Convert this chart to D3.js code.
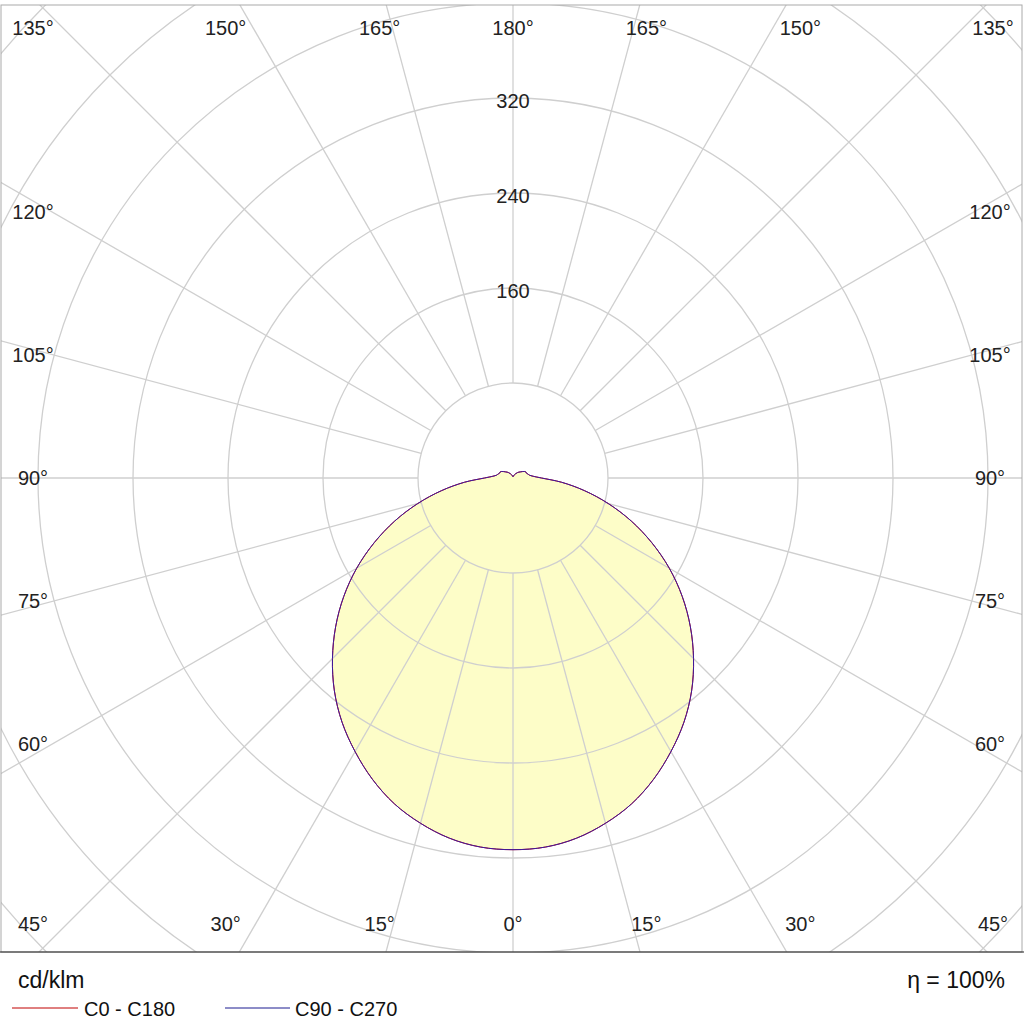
<!DOCTYPE html><html><head><meta charset="utf-8"><script src="https://cdn.jsdelivr.net/npm/d3@7"></script>
<style>body{margin:0;background:#fff}text{font-family:Arial,"Liberation Sans",sans-serif}</style></head><body>
<svg id="c" width="1024" height="1032"></svg>
<script>
const gammaDeg=[0,5,10,15,20,25,30,35,40,45,50,55,60,65,70,75,80,85,90,95,100,105,110,115,120,130,140,150,165,180];
const c0c180=[313,312,308,301,292,280,266,251,234,215,195,174,152,129,106,83,61,41,24,17,14,13,12,12,11,8,6,4,2,1];
const c90c270=c0c180.slice();
const radialTicks=[80,160,240,320,400,480,560,640];
const radialLabels=[160,240,320];
const angleTicks=[0,15,30,45,60,75,90,105,120,135,150,165,180];
const svg=d3.select("#c");
const cx=513,cy=478;
const fx0=1,fy0=5,fx1=1022,fy1=952;
const r=d3.scaleLinear().domain([0,80]).range([0,95]);
svg.append("defs").append("clipPath").attr("id","clip").append("rect").attr("x",fx0).attr("y",fy0).attr("width",fx1-fx0).attr("height",fy1-fy0);
const g=svg.append("g").attr("clip-path","url(#clip)");
function pts(vals){const a=[];for(let i=gammaDeg.length-1;i>=0;i--)a.push([-gammaDeg[i],vals[i]]);for(let i=1;i<gammaDeg.length;i++)a.push([gammaDeg[i],vals[i]]);return a;}
const line=d3.line().x(d=>cx+r(d[1])*Math.sin(d[0]*Math.PI/180)).y(d=>cy+r(d[1])*Math.cos(d[0]*Math.PI/180)).curve(d3.curveCatmullRomClosed);
g.append("path").attr("d",line(pts(c0c180))).attr("fill","#fdfdc2").attr("opacity",0.9);
radialTicks.forEach(t=>g.append("circle").attr("cx",cx).attr("cy",cy).attr("r",r(t)).attr("fill","none").attr("stroke","#cfcfcf").attr("stroke-width",1.3));
for(let a=0;a<360;a+=15){const s=Math.sin(a*Math.PI/180),c=Math.cos(a*Math.PI/180);
g.append("line").attr("x1",cx+r(80)*s).attr("y1",cy+r(80)*c).attr("x2",cx+1500*s).attr("y2",cy+1500*c).attr("stroke","#cfcfcf").attr("stroke-width",1.3);}
g.append("path").attr("d",line(pts(c0c180))).attr("fill","none").attr("stroke","#d00000").attr("stroke-width",1);
g.append("path").attr("d",line(pts(c90c270))).attr("fill","none").attr("stroke","#3a1aa0").attr("stroke-width",1);
svg.append("rect").attr("x",fx0).attr("y",fy0).attr("width",fx1-fx0).attr("height",fy1-fy0).attr("fill","none").attr("stroke","#aaa");
svg.append("line").attr("x1",0).attr("x2",1024).attr("y1",fy1).attr("y2",fy1).attr("stroke","#222").attr("stroke-width",1.2);
radialLabels.forEach(t=>svg.append("text").attr("x",cx).attr("y",cy-r(t)+10).attr("text-anchor","middle").attr("font-size",20).attr("fill","#222").text(t));
const ix0=33,ix1=993,iy0=28,iy1=924;
angleTicks.forEach(a=>{[1,-1].forEach(sg=>{if((a===0||a===180)&&sg<0)return;
const rad=a*Math.PI/180;let x,y;
if(a<=45||a>=135){const dy=(a<=45?474:-474);x=cx+sg*Math.abs(474*Math.tan(rad))*1.05;x=Math.max(ix0,Math.min(ix1,x));y=a<=45?iy1:iy0;}
else{x=sg>0?ix1-3:ix0;y=cy+480/Math.tan(rad)*0.96;}
svg.append("text").attr("x",x).attr("y",y).attr("dy","0.35em").attr("text-anchor","middle").attr("font-size",20).attr("fill","#222").text(a+"°");});});
svg.append("text").attr("x",18).attr("y",988).attr("font-size",23).attr("fill","#111").text("cd/klm");
svg.append("text").attr("x",1005).attr("y",988).attr("text-anchor","end").attr("font-size",23).attr("fill","#111").text("η = 100%");
svg.append("line").attr("x1",12).attr("x2",78).attr("y1",1008).attr("y2",1008).attr("stroke","#c00000");
svg.append("text").attr("x",84).attr("y",1016).attr("font-size",20).attr("fill","#111").text("C0 - C180");
svg.append("line").attr("x1",225).attr("x2",290).attr("y1",1008).attr("y2",1008).attr("stroke","#1a1a90");
svg.append("text").attr("x",295).attr("y",1016).attr("font-size",20).attr("fill","#111").text("C90 - C270");
</script></body></html>
